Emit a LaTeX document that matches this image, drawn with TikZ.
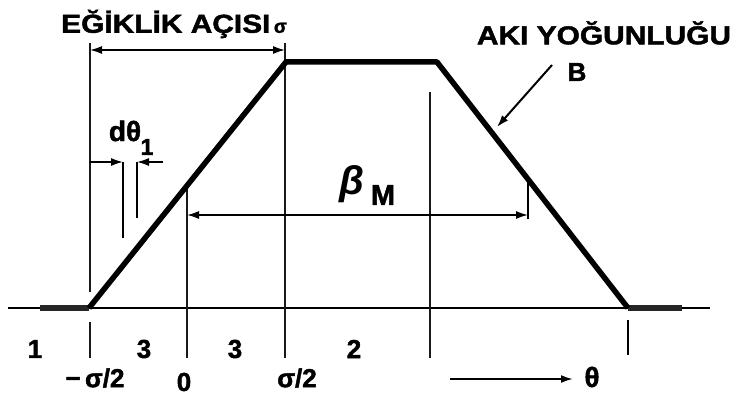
\documentclass[tikz,border=0pt]{standalone}
\usepackage{fontspec}
\setmainfont{Liberation Sans}[BoldFeatures={FakeBold=1.6}]
\usepackage{graphicx}
\usetikzlibrary{positioning, arrows.meta}

% yazilari yatayda biraz genislet
\newcommand{\genis}[1]{\scalebox{1.15}[1]{#1}}

\begin{document}
\begin{tikzpicture}[
        x=1pt, y=-1pt,
        % kalin aki yogunlugu egrisi
        trap/.style={line width=5.5pt, line join=round},
        % dik kilavuz cizgileri
        guide/.style={line width=2.8pt, black!90},
        axisline/.style={line width=1.8pt},
        base/.style={line width=6.5pt, black!85},
        dim/.style={line width=1.6pt},
        lbl/.style={font=\bfseries\fontsize{26}{28}\selectfont, inner sep=0pt},
        title/.style={font=\bfseries\fontsize{26}{30}\selectfont, inner sep=0pt},
        >={Latex[length=12pt,width=8pt]},
    ]
    \useasboundingbox (0,0) rectangle (740,401);

    % trapez koseleri
    \coordinate (foot1) at (89,308);
    \coordinate (top1) at (286,62);
    \coordinate (top2) at (437,62);
    \coordinate (foot2) at (628,308);

    % eksen
    \coordinate (ax1) at (8,308);
    \coordinate (ax2) at (710,308);
    \coordinate (base1) at (40,308);
    \coordinate (base2) at (682,308);
    \draw[axisline] (ax1) -- (ax2);

    % kilavuz cizgileri
    \coordinate (g1a) at (90,43);  \coordinate (g1b) at (90,292);
    \coordinate (g1c) at (90,322); \coordinate (g1d) at (90,358);
    \coordinate (g2a) at (187,186); \coordinate (g2b) at (187,358);
    \coordinate (g3a) at (285,43); \coordinate (g3b) at (285,358);
    \coordinate (g4a) at (430,92); \coordinate (g4b) at (430,358);
    \coordinate (g5a) at (628,320); \coordinate (g5b) at (628,355);
    \coordinate (g6a) at (528,182); \coordinate (g6b) at (528,219);
    \draw[guide] (g1a) -- (g1b);
    \draw[guide] (g1c) -- (g1d);
    \draw[guide] (g2a) -- (g2b);
    \draw[guide] (g3a) -- (g3b);
    \draw[guide] (g4a) -- (g4b);
    \draw[line width=1.8pt] (g5a) -- (g5b);
    \draw[line width=2pt] (g6a) -- (g6b);

    % egri
    \draw[base] (base1) -- (foot1);
    \draw[base] (foot2) -- (base2);
    \draw[trap] (foot1) -- (top1) -- (top2) -- (foot2);

    % egiklik acisi
    \coordinate (sig1) at (90,50);
    \coordinate (sig2) at (285,50);
    \draw[dim, <->] (sig1) -- (sig2);

    % beta_M
    \coordinate (bm1) at (187,215);
    \coordinate (bm2) at (528,215);
    \draw[dim, <->] (bm1) -- (bm2);

    % d theta_1
    \coordinate (dl1) at (90,162);
    \coordinate (dl2) at (123,162);
    \coordinate (dl3) at (123,238);
    \coordinate (dr1) at (163,162);
    \coordinate (dr2) at (137,162);
    \coordinate (dr3) at (137,218);
    \draw[dim, ->] (dl1) -- (dl2);
    \draw[dim, ->] (dr1) -- (dr2);
    \draw[line width=2.4pt] (dl2) -- (dl3);
    \draw[line width=2.4pt] (dr2) -- (dr3);

    % B oku
    \coordinate (btail) at (552,65);
    \coordinate (bhead) at (497,127);
    \draw[line width=2pt, ->] (btail) -- (bhead);

    % theta yonu
    \coordinate (th1) at (450,379);
    \coordinate (th2) at (573,379);
    \draw[line width=2pt, ->] (th1) -- (th2);

    % yazilar
    \node[title, anchor=west] (egim) at (61,24) {\genis{EĞİKLİK AÇISI}};
    \node[lbl, font=\bfseries\fontsize{19}{20}\selectfont, anchor=base west] (sigma)
        at ([xshift=3pt]egim.base east) {σ};
    \node[title] (aki) at (604,33) {\genis{AKI YOĞUNLUĞU}};
    \node[lbl, font=\bfseries\fontsize{26}{28}\selectfont] (bB) at (577,72) {B};

    \node[lbl, font=\bfseries\fontsize{28}{30}\selectfont] (dth) at (125,131) {dθ};
    \node[lbl, font=\bfseries\fontsize{23}{24}\selectfont] (dthsub) at (147,147) {1};

    \node[lbl, font=\bfseries\itshape\fontsize{40}{42}\selectfont] (beta) at (352,184) {β};
    \node[lbl, font=\bfseries\fontsize{29}{30}\selectfont] (bmsub) at (383,195) {M};

    \node[lbl] (r1) at (35,349) {1};
    \node[lbl] (r3a) at (144,349) {3};
    \node[lbl] (r3b) at (235,349) {3};
    \node[lbl] (r2) at (354,349) {2};

    \node[lbl] (xm) at (95,378) {−\,σ/2};
    \node[lbl] (x0) at (184,382) {0};
    \node[lbl] (xp) at (297,378) {σ/2};
    \node[lbl, font=\bfseries\fontsize{28}{30}\selectfont] (theta) at (592,377) {θ};

\end{tikzpicture}
\end{document}
